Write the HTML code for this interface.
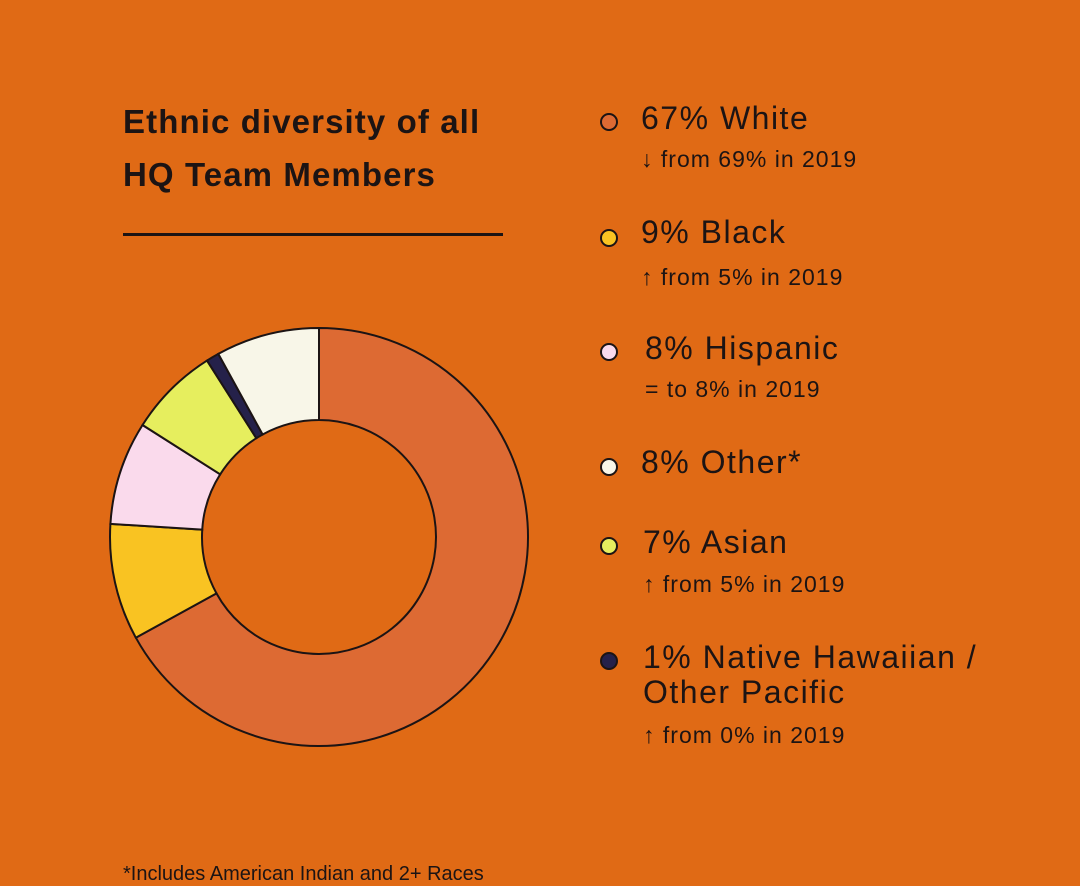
<!DOCTYPE html>
<html><head><meta charset="utf-8"><style>
body{margin:0;width:1080px;height:870px;background:#E06A15;overflow:hidden;font-family:"Liberation Sans",sans-serif;color:#1c1414;position:relative}
.t{position:absolute;white-space:nowrap}
.title{left:123px;font-size:33px;font-weight:bold;letter-spacing:1.1px}
.m{font-size:32px;letter-spacing:1.5px}
.s{font-size:23px;letter-spacing:1px}
.dot{position:absolute;width:14px;height:14px;border:2px solid #1c1414;border-radius:50%}
</style></head><body>
<div class="t title" style="top:103px">Ethnic diversity of all</div>
<div class="t title" style="top:156px">HQ Team Members</div>
<div style="position:absolute;left:123px;top:233px;width:380px;height:3px;background:#1c1414"></div>
<svg width="1080" height="870" style="position:absolute;left:0;top:0" id="sv"></svg>

<div class="dot" style="left:600px;top:113px;background:#DD6A33"></div>
<div class="t m" style="left:641px;top:100px">67% White</div>
<div class="t s" style="left:641px;top:146px">↓ from 69% in 2019</div>

<div class="dot" style="left:600px;top:229px;background:#F9C322"></div>
<div class="t m" style="left:641px;top:214px">9% Black</div>
<div class="t s" style="left:641px;top:264px">↑ from 5% in 2019</div>

<div class="dot" style="left:600px;top:343px;background:#FADAEC"></div>
<div class="t m" style="left:645px;top:330px">8% Hispanic</div>
<div class="t s" style="left:645px;top:376px">= to 8% in 2019</div>

<div class="dot" style="left:600px;top:458px;background:#F8F6E8"></div>
<div class="t m" style="left:641px;top:444px">8% Other*</div>

<div class="dot" style="left:600px;top:537px;background:#E6EE5E"></div>
<div class="t m" style="left:643px;top:524px">7% Asian</div>
<div class="t s" style="left:643px;top:571px">↑ from 5% in 2019</div>

<div class="dot" style="left:600px;top:652px;background:#25214A"></div>
<div class="t m" style="left:643px;top:639px">1% Native Hawaiian /</div>
<div class="t m" style="left:643px;top:674px">Other Pacific</div>
<div class="t s" style="left:643px;top:722px">↑ from 0% in 2019</div>

<div class="t" style="left:123px;top:863px;font-size:20px">*Includes American Indian and 2+ Races</div>
<script>
var cx=319,cy=537,R=209,r=117;
var d=[[67,"#DD6A33"],[9,"#F9C322"],[8,"#FADAEC"],[7,"#E6EE5E"],[1,"#25214A"],[8,"#F8F6E8"]];
var a=0,s="";
function p(rad,ang){var t=ang*Math.PI/180;return (cx+rad*Math.sin(t)).toFixed(2)+","+(cy-rad*Math.cos(t)).toFixed(2);}
d.forEach(function(x){var b=a+x[0]*3.6,l=(b-a)>180?1:0;
s+='<path d="M'+p(R,a)+' A'+R+','+R+' 0 '+l+' 1 '+p(R,b)+' L'+p(r,b)+' A'+r+','+r+' 0 '+l+' 0 '+p(r,a)+' Z" fill="'+x[1]+'" stroke="#1c1414" stroke-width="2"/>';a=b;});
document.getElementById("sv").innerHTML=s;
</script>
</body></html>
